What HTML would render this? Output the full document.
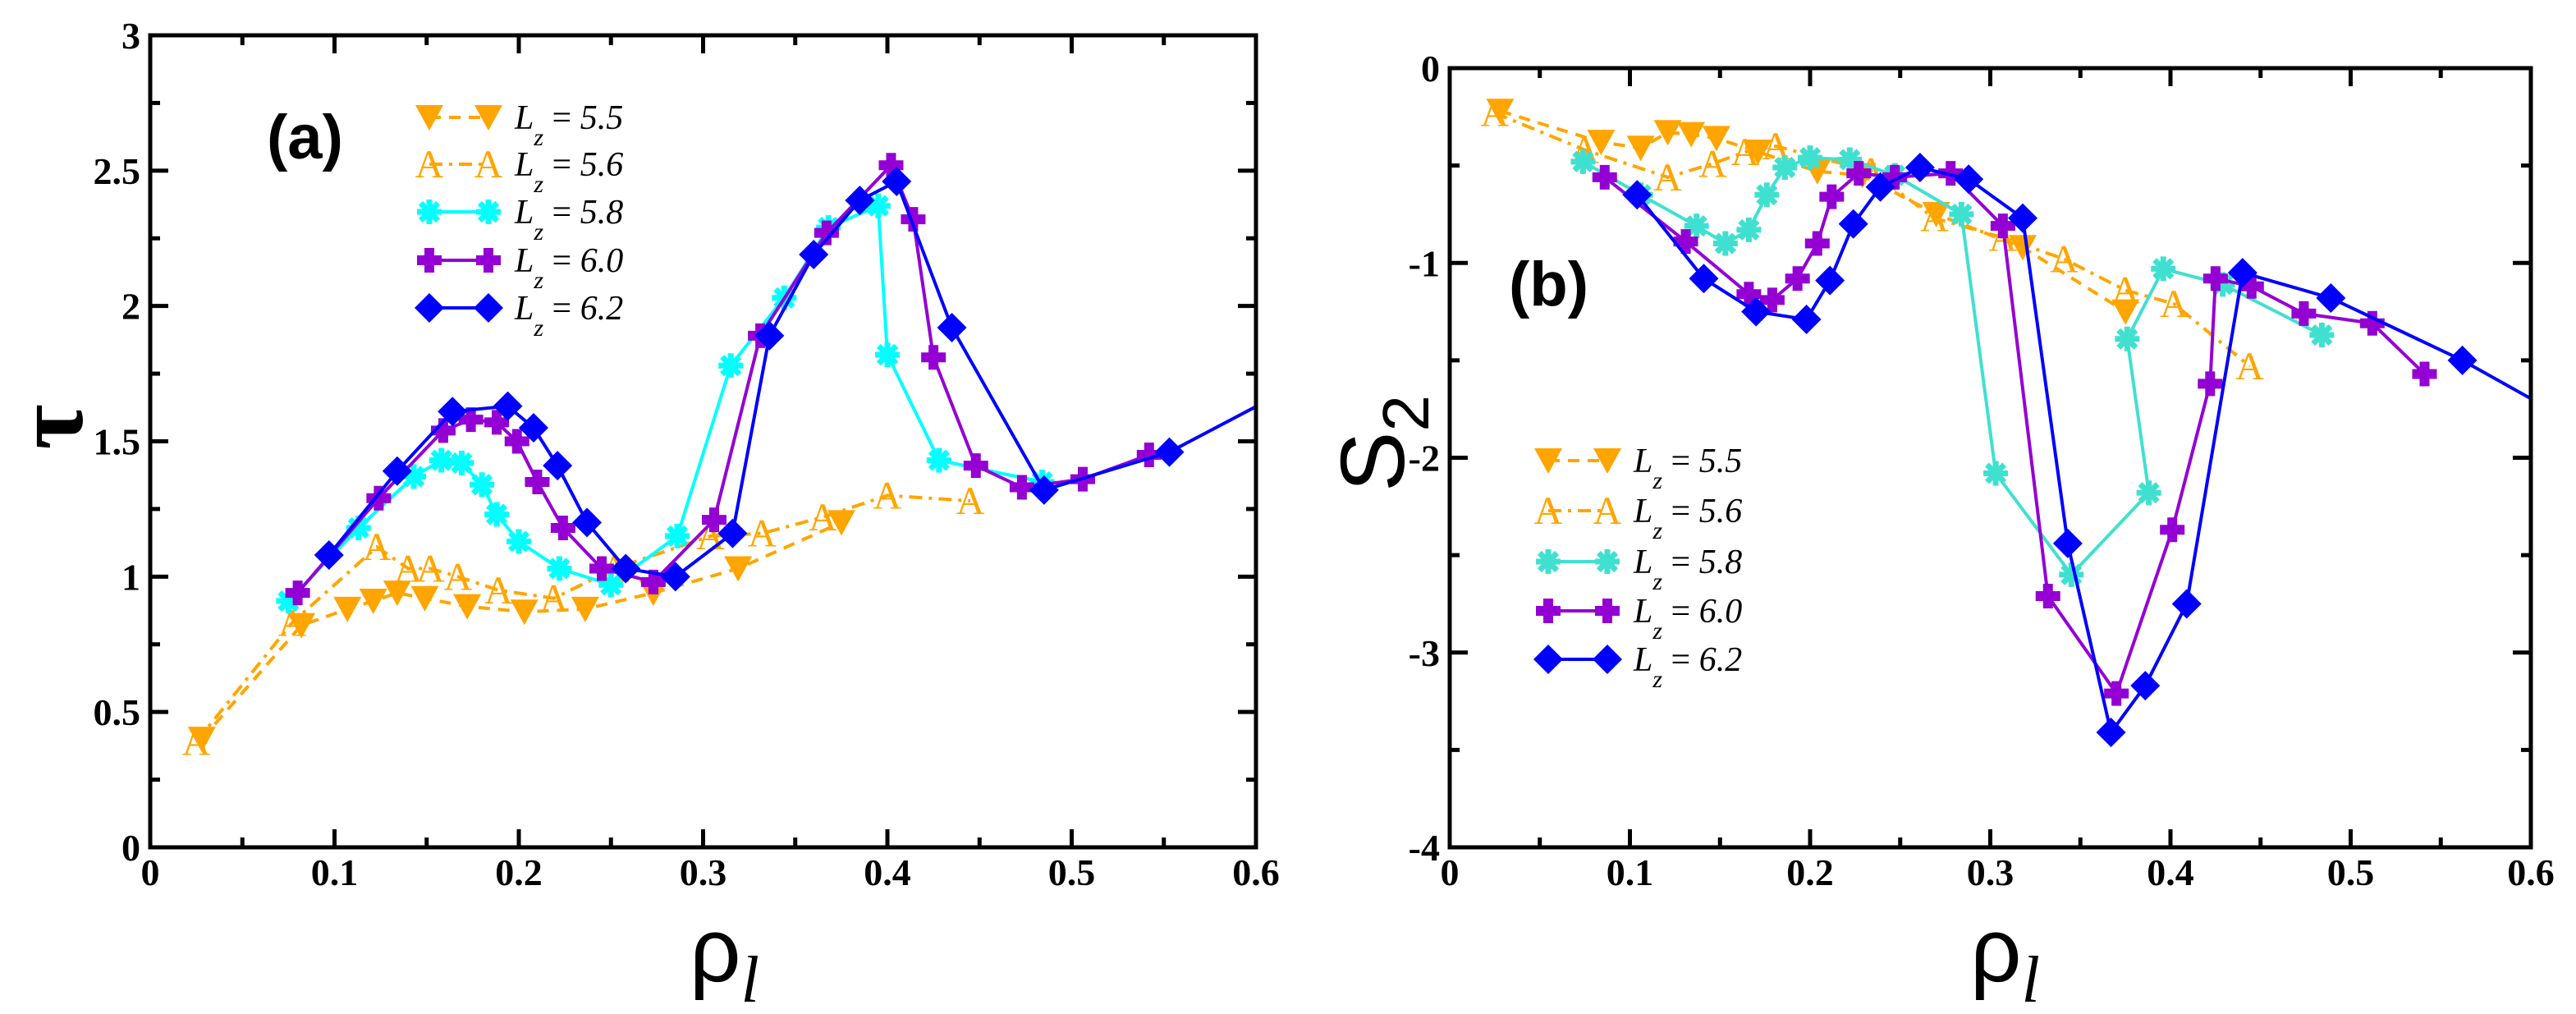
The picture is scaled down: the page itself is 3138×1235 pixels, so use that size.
<!DOCTYPE html>
<html><head><meta charset="utf-8"><style>
html,body{margin:0;padding:0;background:#fff;}
svg{display:block;}
</style></head><body>
<svg id="fig" width="3138" height="1235" viewBox="0 0 3138 1235" xmlns="http://www.w3.org/2000/svg" font-family="Liberation Serif, serif">
<defs>
<clipPath id="clipA"><rect x="183" y="43" width="1347" height="989"/></clipPath>
<clipPath id="clipB"><rect x="1766" y="83" width="1317" height="949"/></clipPath>
</defs>
<g id="panelA"></g>
<g id="panelB"></g>
</svg>
<script>
// ---------- Panel (a): tau vs rho_l ----------
const a55x=[0.028,0.082,0.107,0.121,0.134,0.149,0.172,0.203,0.236,0.273,0.319,0.375];
const a55y=[0.40,0.82,0.88,0.91,0.94,0.92,0.89,0.87,0.88,0.94,1.03,1.20];
const a56x=[0.025,0.077,0.123,0.140,0.152,0.167,0.189,0.219,0.252,0.304,0.332,0.365,0.400,0.445];
const a56y=[0.39,0.83,1.11,1.03,1.03,1.00,0.95,0.92,1.03,1.15,1.16,1.22,1.30,1.28];
const a58x=[0.075,0.113,0.143,0.158,0.169,0.180,0.188,0.200,0.222,0.250,0.286,0.315,0.344,0.368,0.395,0.400,0.428,0.484];
const a58y=[0.91,1.18,1.37,1.43,1.42,1.34,1.23,1.13,1.03,0.97,1.15,1.78,2.03,2.29,2.37,1.82,1.43,1.35];
const a60x=[0.080,0.124,0.159,0.174,0.188,0.199,0.210,0.224,0.245,0.273,0.306,0.331,0.367,0.402,0.414,0.425,0.448,0.473,0.506,0.542];
const a60y=[0.94,1.29,1.54,1.58,1.57,1.50,1.35,1.18,1.03,0.98,1.21,1.89,2.27,2.52,2.32,1.81,1.41,1.33,1.36,1.45];
const a62x=[0.097,0.134,0.164,0.194,0.208,0.221,0.237,0.258,0.285,0.316,0.336,0.360,0.385,0.405,0.435,0.485,0.553,0.620];
const a62y=[1.08,1.39,1.61,1.63,1.55,1.41,1.20,1.03,1.00,1.16,1.89,2.19,2.39,2.46,1.92,1.32,1.46,1.70];
const aXTicks=["0","0.1","0.2","0.3","0.4","0.5","0.6"];
const aYTicks=["0","0.5","1","1.5","2","2.5","3"];
// ---------- Panel (b): S2 vs rho_l ----------
const b55x=[0.028,0.084,0.106,0.121,0.134,0.148,0.171,0.204,0.229,0.270,0.318,0.375];
const b55y=[-0.22,-0.38,-0.41,-0.33,-0.34,-0.36,-0.43,-0.53,-0.55,-0.75,-0.92,-1.25];
const b56x=[0.025,0.075,0.121,0.146,0.164,0.181,0.234,0.269,0.307,0.341,0.375,0.402,0.444];
const b56y=[-0.23,-0.42,-0.56,-0.49,-0.43,-0.40,-0.53,-0.77,-0.87,-0.98,-1.14,-1.21,-1.53];
const b58x=[0.074,0.106,0.137,0.153,0.166,0.176,0.186,0.200,0.222,0.247,0.284,0.303,0.345,0.388,0.376,0.396,0.429,0.484];
const b58y=[-0.48,-0.65,-0.81,-0.90,-0.83,-0.65,-0.51,-0.46,-0.47,-0.55,-0.75,-2.08,-2.60,-2.18,-1.39,-1.03,-1.11,-1.37];
const b60x=[0.086,0.131,0.166,0.179,0.193,0.204,0.212,0.227,0.247,0.278,0.307,0.332,0.370,0.401,0.422,0.425,0.445,0.474,0.512,0.541];
const b60y=[-0.56,-0.89,-1.16,-1.19,-1.08,-0.90,-0.66,-0.54,-0.56,-0.54,-0.81,-2.71,-3.21,-2.37,-1.62,-1.08,-1.12,-1.26,-1.31,-1.57];
const b62x=[0.104,0.141,0.170,0.198,0.211,0.224,0.239,0.261,0.288,0.318,0.343,0.367,0.386,0.409,0.440,0.489,0.562,0.620];
const b62y=[-0.65,-1.08,-1.25,-1.29,-1.09,-0.80,-0.61,-0.51,-0.57,-0.77,-2.44,-3.41,-3.17,-2.75,-1.05,-1.18,-1.50,-1.80];
const bXTicks=["0","0.1","0.2","0.3","0.4","0.5","0.6"];
const bYTicks=["-4","-3","-2","-1","0"];
const legendLabels=["5.5","5.6","5.8","6.0","6.2"];

const NS="http://www.w3.org/2000/svg";
function mk(tag,attrs,parent){const e=document.createElementNS(NS,tag);for(const k in attrs)e.setAttribute(k,attrs[k]);if(parent)parent.appendChild(e);return e;}

function marker(g,type,color,cx,cy){
  let e;
  if(type==='tri'){
    e=mk('polygon',{points:`${cx-17},${cy-15} ${cx+17},${cy-15} ${cx},${cy+16}`,fill:color},g);
  }else if(type==='A'){
    e=mk('text',{x:cx,y:cy+16,'text-anchor':'middle','font-size':'48',fill:color},g);e.textContent='A';
  }else if(type==='ast'){
    e=mk('g',{stroke:color,'stroke-width':'7'},g);
    for(let i=0;i<4;i++){const ang=i*Math.PI/4;const dx=15*Math.cos(ang),dy=15*Math.sin(ang);
      mk('line',{x1:cx-dx,y1:cy-dy,x2:cx+dx,y2:cy+dy},e);}
  }else if(type==='plus'){
    e=mk('path',{d:`M${cx-6},${cy-15}h12v9h9v12h-9v9h-12v-9h-9v-12h9z`,fill:color},g);
  }else if(type==='dia'){
    e=mk('polygon',{points:`${cx},${cy-18} ${cx+18},${cy} ${cx},${cy+18} ${cx-18},${cy}`,fill:color},g);
  }
  
  
  return e;
}

function drawPanel(g,cfg){
  const sx=v=>cfg.x0+(v-cfg.xmin)/(cfg.xmax-cfg.xmin)*(cfg.x1-cfg.x0);
  const sy=v=>cfg.y1-(v-cfg.ymin)/(cfg.ymax-cfg.ymin)*(cfg.y1-cfg.y0);
  const plot=mk('g',{'clip-path':`url(#${cfg.clip})`},g);
  
  
  cfg.series.forEach(s=>{
    const pts=s.x.map((v,i)=>`${sx(v)},${sy(s.y[i])}`).join(' ');
    const pl=mk('polyline',{points:pts,fill:'none',stroke:s.color,'stroke-width':'4','stroke-dasharray':s.dash||'none'},plot);
    
    
    const mg=mk('g',{},plot);
    
    
    s.x.forEach((v,i)=>marker(mg,s.m,s.color,sx(v),sy(s.y[i])));
  });
  const fr=mk('rect',{x:cfg.x0,y:cfg.y0,width:cfg.x1-cfg.x0,height:cfg.y1-cfg.y0,fill:'none',stroke:'#000','stroke-width':'5'},g);
  
  
  const tk=mk('g',{stroke:'#000','stroke-width':'5'},g);
  
  
  const nx=cfg.xt.length;
  for(let i=0;i<nx*2-1;i++){
    const v=cfg.xmin+i*(cfg.xmax-cfg.xmin)/((nx-1)*2);const X=sx(v);const L=i%2?12:22;
    mk('line',{x1:X,y1:cfg.y1,x2:X,y2:cfg.y1-L},tk);mk('line',{x1:X,y1:cfg.y0,x2:X,y2:cfg.y0+L},tk);
  }
  cfg.xt.forEach((t,i)=>{const X=sx(cfg.xmin+i*(cfg.xmax-cfg.xmin)/(nx-1));
    const e=mk('text',{x:X,y:cfg.y1+46,'text-anchor':'middle','font-size':'46','font-weight':'bold'},g);e.textContent=t;
    });
  const ny=cfg.yt.length;
  for(let i=0;i<ny*2-1;i++){
    const v=cfg.ymin+i*(cfg.ymax-cfg.ymin)/((ny-1)*2);const Y=sy(v);const L=i%2?12:22;
    mk('line',{x1:cfg.x0,y1:Y,x2:cfg.x0+L,y2:Y},tk);mk('line',{x1:cfg.x1,y1:Y,x2:cfg.x1-L,y2:Y},tk);
  }
  cfg.yt.forEach((t,i)=>{const Y=sy(cfg.ymin+i*(cfg.ymax-cfg.ymin)/(ny-1));
    const e=mk('text',{x:cfg.x0-12,y:Y+16,'text-anchor':'end','font-size':'46','font-weight':'bold'},g);e.textContent=t;
    });
  const lg=mk('g',{},g);
  
  
  cfg.series.forEach((s,i)=>{
    const Y=cfg.ly[i];const ent=mk('g',{},lg);
    
    
    mk('line',{x1:cfg.lx,y1:Y,x2:cfg.lx+72,y2:Y,stroke:s.color,'stroke-width':'4','stroke-dasharray':s.dash||'none'},ent);
    marker(ent,s.m,s.color,cfg.lx,Y);marker(ent,s.m,s.color,cfg.lx+72,Y);
    const t=mk('text',{x:cfg.lx+104,y:Y+14,'font-size':'42','font-style':'italic'},ent);
    t.innerHTML=`L<tspan font-size="30" dy="20">z</tspan><tspan dy="-20" font-style="normal"> = </tspan>${legendLabels[i]}`;
  });
}

drawPanel(document.getElementById('panelA'),{
  x0:183,x1:1530,y0:43,y1:1032,xmin:0,xmax:0.6,ymin:0,ymax:3,clip:'clipA',xt:aXTicks,yt:aYTicks,
  lx:523,ly:[143,200,258,317,375],
  series:[
    {name:'lz-5.5',x:a55x,y:a55y,color:'#FFA500',m:'tri',dash:'14 10'},
    {name:'lz-5.6',x:a56x,y:a56y,color:'#FFA500',m:'A',dash:'16 8 4 8'},
    {name:'lz-5.8',x:a58x,y:a58y,color:'#00FFFF',m:'ast'},
    {name:'lz-6.0',x:a60x,y:a60y,color:'#9400D3',m:'plus'},
    {name:'lz-6.2',x:a62x,y:a62y,color:'#0000FF',m:'dia'}]
});
drawPanel(document.getElementById('panelB'),{
  x0:1766,x1:3083,y0:83,y1:1032,xmin:0,xmax:0.6,ymin:-4,ymax:0,clip:'clipB',xt:bXTicks,yt:bYTicks,
  lx:1886,ly:[561,622,684,744,803],
  series:[
    {name:'lz-5.5',x:b55x,y:b55y,color:'#FFA500',m:'tri',dash:'14 10'},
    {name:'lz-5.6',x:b56x,y:b56y,color:'#FFA500',m:'A',dash:'16 8 4 8'},
    {name:'lz-5.8',x:b58x,y:b58y,color:'#40E0D0',m:'ast'},
    {name:'lz-6.0',x:b60x,y:b60y,color:'#9400D3',m:'plus'},
    {name:'lz-6.2',x:b62x,y:b62y,color:'#0000FF',m:'dia'}]
});
</script>
<svg style="position:absolute;left:0;top:0" width="3138" height="1235" font-family="Liberation Sans, sans-serif">
  <text x="325" y="193" font-size="76" font-weight="bold">(a)</text>
  <text x="1838" y="372" font-size="76" font-weight="bold">(b)</text>
  <text transform="translate(100,520) rotate(-90)" font-family="Liberation Serif, serif" font-size="120" font-weight="bold" text-anchor="middle">τ</text>
  <text transform="translate(1710,540) rotate(-90)" font-family="Liberation Sans, sans-serif" font-size="110" text-anchor="middle">S<tspan font-size="80" dy="30">2</tspan></text>
  <text x="840" y="1195" font-family="Liberation Sans, sans-serif" font-size="110">ρ<tspan font-size="80" font-style="italic" font-family="Liberation Serif, serif" dy="25">l</tspan></text>
  <text x="2400" y="1195" font-family="Liberation Sans, sans-serif" font-size="110">ρ<tspan font-size="80" font-style="italic" font-family="Liberation Serif, serif" dy="25">l</tspan></text>
</svg>
</body></html>
